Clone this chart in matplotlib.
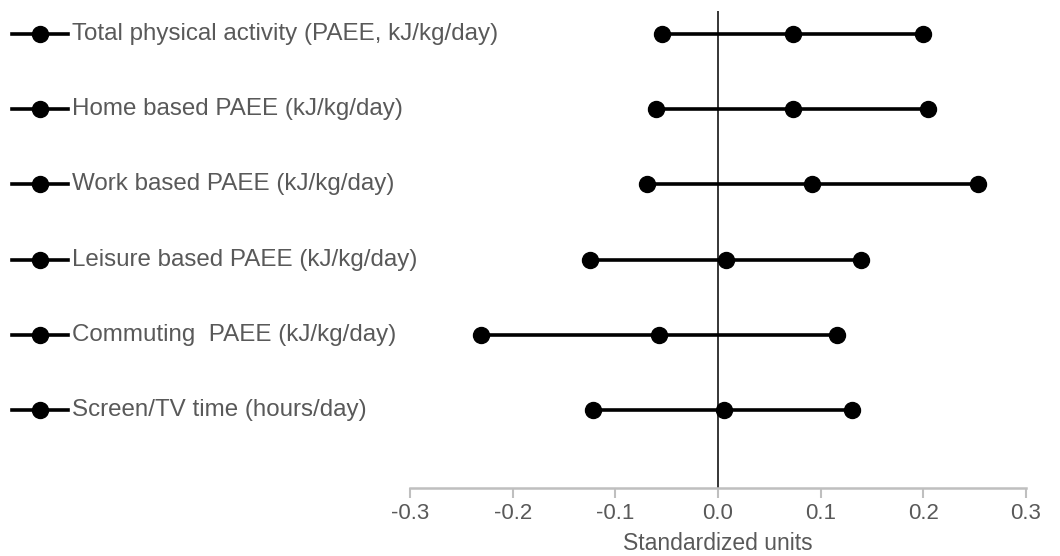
import matplotlib
matplotlib.use("Agg")
import matplotlib.pyplot as plt
from matplotlib.transforms import blended_transform_factory

plt.rcParams['font.family'] = ['Liberation Sans', 'DejaVu Sans']

# Rows from top to bottom
labels = [
    "Total physical activity (PAEE, kJ/kg/day)",
    "Home based PAEE (kJ/kg/day)",
    "Work based PAEE (kJ/kg/day)",
    "Leisure based PAEE (kJ/kg/day)",
    "Commuting  PAEE (kJ/kg/day)",
    "Screen/TV time (hours/day)",
]
lower = [-0.055, -0.060, -0.069, -0.125, -0.231, -0.122]
estimate = [0.073, 0.073, 0.092, 0.008, -0.057, 0.006]
upper = [0.200, 0.205, 0.253, 0.139, 0.116, 0.131]
xticks = [-0.3, -0.2, -0.1, 0.0, 0.1, 0.2, 0.3]

text_col = '#595959'
axis_col = '#bfbfbf'

fig = plt.figure(figsize=(10.6, 5.56), dpi=100)
ax = fig.add_axes([410 / 1060, 1 - 488 / 556, 616 / 1060, 477 / 556])

n = len(labels)
ypos = [n - i for i in range(n)]

for y, lo, est, hi in zip(ypos, lower, estimate, upper):
    ax.plot([lo, est, hi], [y, y, y], color='black', lw=2.6, marker='o',
            markersize=11.5, solid_capstyle='butt', zorder=3)

ax.axvline(0, color='black', lw=1.1, zorder=2)

ax.set_xlim(-0.3, 0.3)
ax.set_ylim(-0.03, 6.3)
ax.set_yticks([])
ax.set_xticks(xticks)
ax.set_xticklabels([f"{t:.1f}" for t in xticks], fontsize=16, color=text_col)
ax.tick_params(axis='x', length=7, width=1.5, color=axis_col, pad=4)
for side in ['top', 'right', 'left']:
    ax.spines[side].set_visible(False)
ax.spines['bottom'].set_color(axis_col)
ax.spines['bottom'].set_linewidth(1.8)
ax.set_xlabel("Standardized units", fontsize=16.5, color=text_col, labelpad=5.5)

# legend-style labels on the left
tr = blended_transform_factory(fig.transFigure, ax.transData)
for y, lab in zip(ypos, labels):
    ax.plot([12 / 1060, 68 / 1060], [y, y], color='black', lw=2.6,
            transform=tr, clip_on=False)
    ax.plot([40 / 1060], [y], color='black', marker='o', markersize=11.5,
            transform=tr, clip_on=False)
    ax.text(72 / 1060, y, lab, transform=tr, fontsize=17.4, color=text_col,
            va='center', ha='left')

fig.savefig("out.png", dpi=100)
